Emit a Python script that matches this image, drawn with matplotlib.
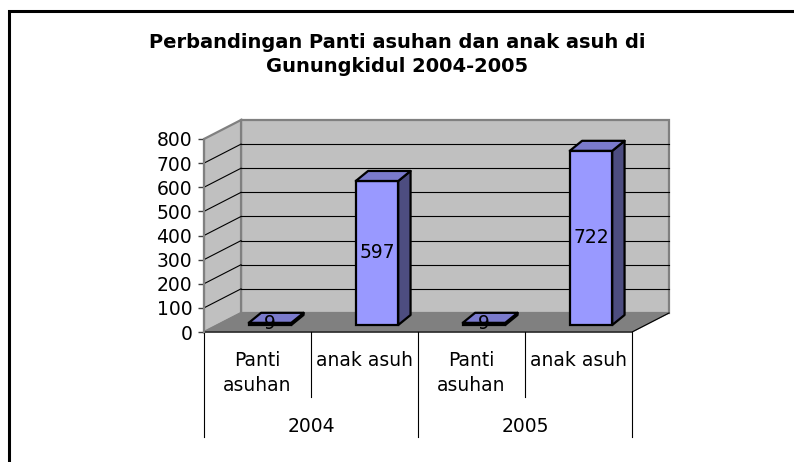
import matplotlib
matplotlib.use("Agg")
import matplotlib.pyplot as plt
from matplotlib.patches import Polygon, Rectangle

plt.rcParams['font.family'] = ['DejaVu Sans']

# ---- data ----
years = ['2004', '2005']
categories = ['Panti\nasuhan', 'anak asuh']
values_2004 = [9, 597]
values_2005 = [9, 722]
y_ticks = [0, 100, 200, 300, 400, 500, 600, 700, 800]
title = 'Perbandingan Panti asuhan dan anak asuh di\nGunungkidul 2004-2005'

values = values_2004 + values_2005
labels = categories * len(years)
n = len(values)

# ---- style / geometry ----
FONT = 13.5
TFONT = 14
DX, DY = 0.346, 78.8          # wall depth (category units, value units)
FX, FY = 0.117, 29.0          # bar front-plane offset
W = 0.397                     # bar width
BDX, BDY = 0.115, 41.5        # bar depth
C_FRONT, C_TOP, C_SIDE = '#9999FF', '#7A7ACC', '#4D4D80'

fig = plt.figure(figsize=(7.94, 4.62), dpi=100)
fig.patch.set_facecolor('white')

# outer chart frame
fig.add_artist(Rectangle((9.0 / 794, -0.2), 1.2, (462 - 11.5) / 462 + 0.2,
                         transform=fig.transFigure, fill=False,
                         ec='black', lw=2.2, zorder=10))

fig.text(0.5, 1 - 54.5 / 462, title, ha='center', va='center',
         fontsize=TFONT, fontweight='bold', linespacing=1.3)

ax = fig.add_axes([204 / 794, (462 - 332) / 462, 428 / 794, 193 / 462])
ax.set_xlim(-0.5, n - 0.5)
ax.set_ylim(y_ticks[0], y_ticks[-1])
ax.patch.set_visible(False)
for s in ['top', 'right', 'bottom']:
    ax.spines[s].set_visible(False)
ax.spines['left'].set_color('#808080')
ax.spines['left'].set_linewidth(1.5)
ax.spines['left'].set_zorder(3)
ax.set_xticks([])
ax.set_yticks(y_ticks)
ax.set_yticklabels([str(t) for t in y_ticks])
ax.tick_params(axis='y', length=4.5, width=1, color='#404040', pad=4,
               labelsize=FONT)

x0, x1 = -0.5, n - 0.5
ymax = y_ticks[-1]

# walls and floor
floor = Polygon([(x0, 0), (x1, 0), (x1 + DX, DY), (x0 + DX, DY)],
                closed=True, fc='#808080', ec='#808080', lw=1, clip_on=False, zorder=1)
back = Polygon([(x0 + DX, DY), (x1 + DX, DY), (x1 + DX, ymax + DY), (x0 + DX, ymax + DY)],
               closed=True, fc='#C0C0C0', ec='#808080', lw=1.6, clip_on=False, zorder=0.8)
left = Polygon([(x0, 0), (x0, ymax), (x0 + DX, ymax + DY), (x0 + DX, DY)],
               closed=True, fc='#C0C0C0', ec='#808080', lw=1.6, clip_on=False, zorder=0.9)
ax.add_patch(back)
ax.add_patch(left)
ax.add_patch(floor)

# gridlines
for t in y_ticks[1:-1]:
    ax.plot([x0 + DX, x1 + DX], [t + DY, t + DY], color='black', lw=0.8,
            clip_on=False, zorder=0.95)
    ax.plot([x0, x0 + DX], [t, t + DY], color='black', lw=0.8,
            clip_on=False, zorder=0.95)

# floor edges
ax.plot([x0, x1, x1 + DX], [0, 0, DY], color='black', lw=0.8, clip_on=False, zorder=1.1)

# bars
xs = list(range(n))
lefts = [x - W / 2 + FX for x in xs]
ax.bar([l + W / 2 for l in lefts], values, width=W, bottom=FY,
       color=C_FRONT, edgecolor='black', linewidth=1.6, zorder=4)
for l, v in zip(lefts, values):
    top = Polygon([(l, FY + v), (l + W, FY + v), (l + W + BDX, FY + v + BDY),
                   (l + BDX, FY + v + BDY)], closed=True, fc=C_TOP, ec='black',
                  lw=1.6, zorder=4, joinstyle='round')
    side = Polygon([(l + W, FY), (l + W + BDX, FY + BDY), (l + W + BDX, FY + v + BDY),
                    (l + W, FY + v)], closed=True, fc=C_SIDE, ec='black',
                   lw=1.6, zorder=4, joinstyle='round')
    ax.add_patch(side)
    ax.add_patch(top)
    ax.text(l + W / 2, FY + v / 2, str(v), ha='center', va='center',
            fontsize=FONT, color='black', zorder=5)

# category dividers and labels
PX = 193 / ymax   # px per value unit
for k in range(n + 1):
    xb = k - 0.5
    depth = 105 if k % 2 == 0 else 65
    ax.plot([xb, xb], [0, -depth / PX], color='black', lw=0.8, clip_on=False)

for x, lab in zip(xs, labels):
    if '\n' in lab:
        ax.text(x, -(373 - 332) / PX, lab, ha='center', va='center',
                fontsize=FONT, linespacing=1.45)
    else:
        ax.text(x, -(360 - 332) / PX, lab, ha='center', va='center',
                fontsize=FONT)

for i, yr in enumerate(years):
    ax.text(2 * i + 0.5, -(426 - 332) / PX, yr, ha='center', va='center',
            fontsize=FONT)

fig.savefig('out.png', dpi=100, facecolor='white')
